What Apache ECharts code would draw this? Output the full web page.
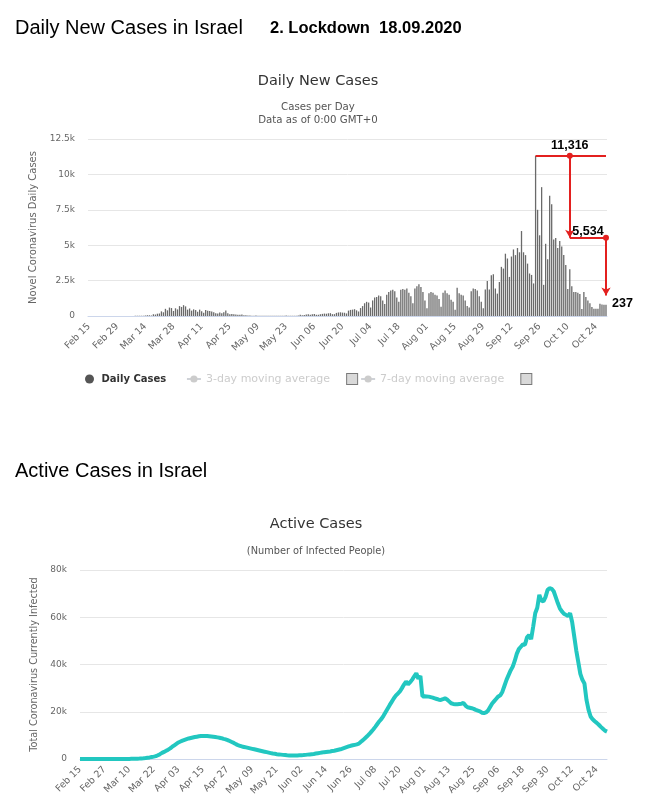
<!DOCTYPE html>
<html><head><meta charset="utf-8">
<script src="https://cdn.jsdelivr.net/npm/echarts@6/dist/echarts.min.js"></script>
<style>html,body{margin:0;padding:0;background:#fff}#c{width:649px;height:800px}</style>
</head><body><div id="c"></div>
<script>
// ---- data ----
const startDate = '2020-02-15';
const endDate = '2020-10-29';
const monthNames = ['Jan','Feb','Mar','Apr','May','Jun','Jul','Aug','Sep','Oct','Nov','Dec'];

const dailyFeb = [0,0,0,0,0,1,0,0,0,0,0,0,1,0,1];
const dailyMar = [3,3,2,3,4,6,2,4,13,11,12,20,25,30,57,50,36,123,104,163,178,327,262,507,400,596,561,357,544,465,700];
const dailyApr = [640,765,680,450,530,380,470,420,300,450,340,230,420,370,350,310,260,200,170,250,200,270,390,190,130,140,120,100,80,90];
const dailyMay = [110,60,60,40,30,20,25,30,25,15,20,20,15,10,15,20,20,25,20,15,10,20,30,15,15,10,10,20,40,80,50];
const dailyJun = [70,110,120,90,120,150,90,80,130,150,170,160,190,200,130,130,220,250,260,240,230,180,380,430,450,480,400,320,560,700];
const dailyJul = [900,1000,950,600,1100,1300,1350,1450,1400,1100,850,1500,1700,1800,1850,1750,1300,1000,1850,1900,1850,1950,1650,1400,900,1950,2100,2250,2050,1700,1100];
const dailyAug = [550,1600,1700,1650,1500,1450,1200,650,1650,1800,1600,1500,1150,1000,450,2000,1600,1500,1450,1100,700,600,1750,1950,1900,1800,1400,1000,550,1870,2480];
const dailySep = [1870,2880,2950,1940,1580,2400,3470,3350,4400,4060,2760,4200,4700,4300,4800,4500,6000,4500,4300,3700,3000,2900,2300,11316,7500,5700,9100,2200,5100,4000];
const dailyOct = [8500,7900,5400,5500,4800,5300,4900,4300,3600,1900,3300,2100,1700,1700,1650,1550,500,1700,1350,1100,900,640,520,520,520,870,820,800,800];

const activeFeb = [0,0,0,0,0,1,1,1,1,1,1,2,3,4,4];
const activeMar = [5,7,7,10,12,15,19,30,37,48,72,91,120,140,185,240,290,420,560,670,860,1000,1200,1580,2050,2580,3000,3450,3950,4500,5200];
const activeApr = [5800,6400,7000,7400,7800,8100,8400,8700,8900,9100,9300,9450,9600,9700,9750,9750,9700,9600,9500,9400,9300,9150,9000,8800,8500,8300,8000,7600,7200,6800];
const activeMay = [6300,5900,5600,5300,5100,4900,4700,4500,4300,4100,3900,3700,3500,3300,3100,2900,2700,2500,2300,2200,2050,1950,1850,1750,1650,1550,1500,1450,1450,1450,1500];
const activeJun = [1550,1600,1650,1750,1850,1950,2050,2150,2300,2450,2600,2750,2900,3000,3100,3200,3350,3500,3700,3900,4100,4400,4700,5000,5300,5600,5800,6000,6200,6500];
const activeJul = [7300,8000,8800,9600,10500,11500,12500,13600,14800,16000,17000,18300,19800,21300,22800,24200,25600,26800,27700,28600,30000,31500,32800,31600,32500,33600,35000,36300,34000,35200,26500];
const activeAug = [26600,26500,26400,26200,26000,25700,25400,25100,25000,25300,25700,25200,24400,23600,23300,23200,23200,23300,23400,23700,22600,21900,21700,21500,21200,20800,20500,20200,19600,19400,19700];
const activeSep = [20500,22000,23500,24500,25500,26500,27000,28500,31000,33500,35500,37500,39000,41500,44500,46500,47500,48500,48400,51500,52500,50700,56000,61700,64000,69500,67000,66700,68500,71500];
const activeOct = [72300,72000,71000,68500,66000,63800,62500,61500,61000,60500,61700,58000,52000,46000,41000,36000,33500,32000,25000,20800,18000,16800,16000,15300,14500,13600,12800,12000,11600];

const dailyTickLabels = ['0','2.5k','5k','7.5k','10k','12.5k'];
const activeTickLabels = ['0','20k','40k','60k','80k'];

// annotation values
const peakDate = 'Sep 24';
const dropDate = 'Oct 11';
const peakValue = 11316;
const midValue = 5534;
const arrowEndValue = 1450;
const endLabelValue = 237;
const endLabelLevel = 850;

// ---- build ----
const categories = [];
for (let d = new Date(startDate + 'T00:00:00Z'); d <= new Date(endDate + 'T00:00:00Z'); d.setUTCDate(d.getUTCDate() + 1)) {
  categories.push(monthNames[d.getUTCMonth()] + ' ' + String(d.getUTCDate()).padStart(2, '0'));
}
const lastDate = categories[categories.length - 1];
const dailyCases = [].concat(dailyFeb, dailyMar, dailyApr, dailyMay, dailyJun, dailyJul, dailyAug, dailySep, dailyOct);
const activeCases = [].concat(activeFeb, activeMar, activeApr, activeMay, activeJun, activeJul, activeAug, activeSep, activeOct);

const FONT = 'DejaVu Sans';
const HEAD = 'Liberation Sans';
const RED = '#e3201f';
const fmt = v => v.toLocaleString('en-US');

const chart = echarts.init(document.getElementById('c'), null, {renderer: 'canvas'});
const option = {
  animation: false,
  textStyle: {fontFamily: FONT},
  title: [
    {text: 'Daily New Cases in Israel', left: 15, top: 18, padding: 0,
     textStyle: {fontFamily: HEAD, fontSize: 20, fontWeight: 'normal', color: '#000'}},
    {text: '2. Lockdown  18.09.2020', left: 270, top: 20, padding: 0,
     textStyle: {fontFamily: HEAD, fontSize: 16.5, fontWeight: 'bold', color: '#000'}},
    {text: 'Daily New Cases', left: 318, textAlign: 'center', top: 74, padding: 0,
     textStyle: {fontFamily: FONT, fontSize: 14.5, fontWeight: 'normal', color: '#333'}},
    {text: 'Cases per Day', left: 318, textAlign: 'center', top: 102, padding: 0,
     textStyle: {fontFamily: FONT, fontSize: 10.2, fontWeight: 'normal', color: '#555'}},
    {text: 'Data as of 0:00 GMT+0', left: 318, textAlign: 'center', top: 115, padding: 0,
     textStyle: {fontFamily: FONT, fontSize: 10.2, fontWeight: 'normal', color: '#555'}},
    {text: 'Active Cases in Israel', left: 15, top: 461, padding: 0,
     textStyle: {fontFamily: HEAD, fontSize: 20, fontWeight: 'normal', color: '#000'}},
    {text: 'Active Cases', left: 316, textAlign: 'center', top: 517, padding: 0,
     textStyle: {fontFamily: FONT, fontSize: 14.5, fontWeight: 'normal', color: '#333'}},
    {text: '(Number of Infected People)', left: 316, textAlign: 'center', top: 546, padding: 0,
     textStyle: {fontFamily: FONT, fontSize: 9.8, fontWeight: 'normal', color: '#555'}}
  ],
  legend: {
    left: 85, top: 373, padding: 0, itemWidth: 14, itemHeight: 9, itemGap: 2,
    inactiveColor: '#cccccc', inactiveBorderColor: '#cccccc',
    selected: {'3-day moving average': false, '7-day moving average': false},
    textStyle: {fontFamily: FONT, fontSize: 11, color: '#333',
      rich: {
        b: {fontFamily: FONT, fontSize: 10, fontWeight: 'bold', color: '#333'},
        g: {fontFamily: FONT, fontSize: 10, color: 'rgba(255,255,255,0)'},
        t: {fontFamily: FONT, fontSize: 11, padding: [0, 17, 0, 0]},
        cb: {width: 10, height: 10, fontSize: 8, backgroundColor: '#d9d9d9', borderColor: '#7a7a7a', borderWidth: 1}
      }
    },
    formatter: name => name === 'Daily Cases' ? '{b|' + name + '}{g|xxx}' : '{t|' + name + '}{cb| }',
    data: [
      {name: 'Daily Cases', icon: 'circle', itemStyle: {color: '#555'}},
      {name: '3-day moving average'},
      {name: '7-day moving average'}
    ]
  },
  grid: [
    {left: 88, right: 42, top: 139, height: 177},
    {left: 80, right: 42, top: 570, height: 189}
  ],
  xAxis: [
    {type: 'category', gridIndex: 0, data: categories, boundaryGap: true,
     axisLine: {lineStyle: {color: '#ccd6eb'}}, axisTick: {show: false},
     axisLabel: {interval: 13, rotate: 45, margin: 9, fontFamily: FONT, fontSize: 9.5, color: '#666'}},
    {type: 'category', gridIndex: 1, data: categories, boundaryGap: false,
     axisLine: {lineStyle: {color: '#ccd6eb'}}, axisTick: {show: false},
     axisLabel: {interval: 11, rotate: 45, margin: 9, fontFamily: FONT, fontSize: 9.5, color: '#666'}}
  ],
  yAxis: [
    {type: 'value', gridIndex: 0, min: 0, max: 12500, interval: 2500,
     name: 'Novel Coronavirus Daily Cases', nameLocation: 'middle', nameGap: 46,
     nameTextStyle: {fontFamily: FONT, fontSize: 10, color: '#666'},
     axisLine: {show: false}, axisTick: {show: false},
     splitLine: {lineStyle: {color: '#e6e6e6'}},
     axisLabel: {margin: 13, fontFamily: FONT, fontSize: 9, color: '#666',
       formatter: v => dailyTickLabels[Math.round(v / 2500)]}},
    {type: 'value', gridIndex: 1, min: 0, max: 80000, interval: 20000,
     name: 'Total Coronavirus Currently Infected', nameLocation: 'middle', nameGap: 41,
     nameTextStyle: {fontFamily: FONT, fontSize: 9.7, color: '#666'},
     axisLine: {show: false}, axisTick: {show: false},
     splitLine: {lineStyle: {color: '#e6e6e6'}},
     axisLabel: {margin: 13, fontFamily: FONT, fontSize: 9, color: '#666',
       formatter: v => activeTickLabels[Math.round(v / 20000)]}}
  ],
  series: [
    {name: 'Daily Cases', type: 'bar', xAxisIndex: 0, yAxisIndex: 0, data: dailyCases,
     barWidth: 1.3, itemStyle: {color: '#6a6a6a'},
     markLine: {
       silent: true, animation: false, symbol: 'none', symbolSize: 8,
       lineStyle: {color: RED, width: 2, type: 'solid'}, label: {show: false},
       emphasis: {disabled: true},
       data: [
         [{coord: [peakDate, peakValue]}, {coord: [lastDate, peakValue]}],
         [{coord: [dropDate, peakValue]}, {coord: [dropDate, midValue], symbol: 'arrow', symbolSize: [7, 8]}],
         [{coord: [dropDate, midValue]}, {coord: [lastDate, midValue]}],
         [{coord: [lastDate, midValue]}, {coord: [lastDate, arrowEndValue], symbol: 'arrow', symbolSize: [7, 8]}]
       ]
     },
     markPoint: {
       silent: true, animation: false, symbol: 'circle', symbolSize: 6,
       itemStyle: {color: RED},
       label: {show: true, color: '#000', fontFamily: HEAD, fontWeight: 'bold', fontSize: 12.5},
       data: [
         {coord: [dropDate, peakValue], value: fmt(peakValue), label: {position: 'top', distance: 1}},
         {coord: [lastDate, midValue], value: fmt(midValue), label: {position: 'top', distance: 0, offset: [-18, 3]}},
         {coord: [lastDate, endLabelLevel], value: fmt(endLabelValue), symbolSize: 0,
          label: {position: 'right', distance: 6}}
       ]
     }
    },
    {name: '3-day moving average', type: 'line', xAxisIndex: 0, yAxisIndex: 0, data: [],
     symbol: 'circle', symbolSize: 5, itemStyle: {color: '#999'}, lineStyle: {color: '#999'}},
    {name: '7-day moving average', type: 'line', xAxisIndex: 0, yAxisIndex: 0, data: [],
     symbol: 'circle', symbolSize: 5, itemStyle: {color: '#999'}, lineStyle: {color: '#999'}},
    {name: 'Active Cases', type: 'line', xAxisIndex: 1, yAxisIndex: 1, data: activeCases,
     showSymbol: false, symbol: 'none', lineStyle: {color: '#22c7c0', width: 4}, itemStyle: {color: '#22c7c0'}}
  ]
};
chart.setOption(option);
</script>
</body></html>
